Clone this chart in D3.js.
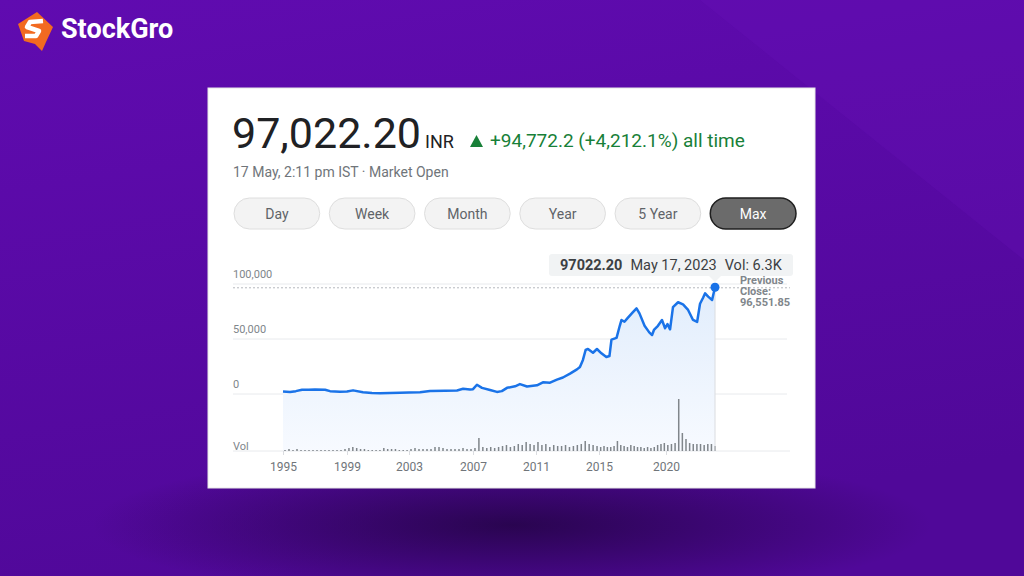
<!DOCTYPE html>
<html>
<head>
<meta charset="utf-8">
<script src="https://cdn.jsdelivr.net/npm/d3@7"></script>
<style>
  html, body { margin: 0; padding: 0; background: #5a0aa6; }
  svg { display: block; font-family: Roboto, Arial, sans-serif; }
</style>
</head>
<body>
<svg id="chart" width="1024" height="576"></svg>
<script>
// price history (year as decimal, close in INR)
const years = [1995.00, 1995.44, 1995.80, 1996.19, 1996.60, 1997.00, 1997.63, 1997.94, 1998.56, 1999.00,
  1999.39, 2000.03, 2000.61, 2001.13, 2001.77, 2002.42, 2003.00, 2003.69, 2004.31, 2005.25,
  2006.00, 2006.38, 2006.81, 2007.00, 2007.25, 2007.57, 2008.08, 2008.52, 2008.83, 2009.16,
  2009.67, 2009.98, 2010.43, 2011.06, 2011.44, 2011.89, 2012.33, 2012.71, 2013.16, 2013.60,
  2013.79, 2013.98, 2014.15, 2014.30, 2014.62, 2014.87, 2015.18, 2015.55, 2015.78, 2015.93,
  2016.31, 2016.55, 2016.68, 2016.90, 2017.13, 2017.50, 2017.80, 2018.02, 2018.40, 2018.75,
  2018.96, 2019.10, 2019.40, 2019.70, 2019.93, 2020.10, 2020.28, 2020.48, 2020.83, 2021.17,
  2021.52, 2021.86, 2022.14, 2022.34, 2022.55, 2022.69, 2022.90, 2023.17, 2023.37];
const closes = [2250, 1800, 2600, 3900, 3800, 4000, 3900, 2600, 2100, 2200,
  3300, 1600, 1000, 700, 1000, 1200, 1300, 1500, 2700, 3000,
  3200, 4700, 4000, 4400, 8400, 5600, 3700, 1900, 2600, 5600,
  7000, 9000, 6800, 7900, 10600, 10300, 13000, 15000, 18500, 22400,
  24600, 31000, 40000, 41000, 37500, 40900, 37000, 33600, 34500, 49400,
  51000, 62000, 67300, 65700, 69000, 74000, 77900, 73300, 62000, 56000,
  53600, 58200, 62000, 67300, 59800, 63500, 58800, 79000, 83400, 81500,
  76400, 67300, 65500, 82000, 87500, 91500, 88500, 85500, 97022.2];

// quarterly volume (relative, thousands) from 1995 Q1 to 2023 Q2
const volStart = 1995;
const volK = [
  1, 2, 1, 2,   1, 1, 1, 1,   1, 1, 1, 1,   1, 1, 1, 2,   // 1995-1998
  3, 4, 3, 2,   2, 1, 1, 1,   1, 3, 2, 2,   2, 1, 1, 1,   // 1999-2002
  2, 3, 2, 2,   2, 2, 4, 4,   3, 2, 2, 2,   2, 3, 2, 2,   // 2003-2006
  3, 13, 4, 3,  4, 3, 4, 5,   6, 4, 5, 7,   6, 9, 7, 6,   // 2007-2010
  9, 6, 7, 4,   6, 5, 5, 6,   4, 5, 6, 7,   10, 7, 6, 5,  // 2011-2014
  4, 5, 4, 4,   5, 10, 6, 5,  4, 6, 5, 4,   4, 3, 4, 3,   // 2015-2018
  4, 6, 7, 8,   6, 7, 8, 52,  18, 12, 8, 7, 7, 7, 6, 7,   // 2019-2022
  7, 5];                                                  // 2023

const tickYears = [1995, 1999, 2003, 2007, 2011, 2015, 2020];
const yTicks = [0, 50000, 100000];
const yTickLabels = ['0', '50,000', '100,000'];
const prevClose = 96551.85;
const ranges = ['Day', 'Week', 'Month', 'Year', '5 Year', 'Max'];

const svg = d3.select('#chart');
const defs = svg.append('defs');

// background
const bg = defs.append('linearGradient').attr('id', 'bg').attr('x1', 0).attr('y1', 0).attr('x2', 0.3).attr('y2', 1);
bg.append('stop').attr('offset', '0%').attr('stop-color', '#600bb0');
bg.append('stop').attr('offset', '100%').attr('stop-color', '#500899');
const glow = defs.append('radialGradient').attr('id', 'glow');
glow.append('stop').attr('offset', '0%').attr('stop-color', '#250448').attr('stop-opacity', 0.9);
glow.append('stop').attr('offset', '100%').attr('stop-color', '#250448').attr('stop-opacity', 0);
const area = defs.append('linearGradient').attr('id', 'areaFill').attr('x1', 0).attr('y1', 0).attr('x2', 0).attr('y2', 1);
area.append('stop').attr('offset', '0%').attr('stop-color', '#e1edfc');
area.append('stop').attr('offset', '100%').attr('stop-color', '#f7faff');

svg.append('rect').attr('width', 1024).attr('height', 576).attr('fill', 'url(#bg)');
svg.append('path').attr('d', 'M700 0 L1024 0 L1024 260 Z').attr('fill', '#6c14bd').attr('opacity', 0.2);
svg.append('ellipse').attr('cx', 512).attr('cy', 525).attr('rx', 420).attr('ry', 75).attr('fill', 'url(#glow)');

// logo
const logo = svg.append('g');
logo.append('path').attr('d', 'M18 24 L37 12 L53 27 L46 42 L42 51 L35 44 L24 41 Z').attr('fill', '#f26a21');
logo.append('path').attr('d', 'M43 21 L30 22 L27 27 L39 31 L36 36 L25 36')
  .attr('fill', 'none').attr('stroke', '#fff').attr('stroke-width', 4.5).attr('stroke-linejoin', 'round');
logo.append('text').attr('x', 61).attr('y', 38).attr('fill', '#fff')
  .attr('font-size', 27).attr('font-weight', 700).text('StockGro');

// card
svg.append('rect').attr('x', 208).attr('y', 88).attr('width', 607).attr('height', 400)
  .attr('fill', '#fff').attr('stroke', '#e6e6e6');

// header
svg.append('text').attr('x', 232).attr('y', 148).attr('font-size', 43).attr('fill', '#202124').text('97,022.20');
svg.append('text').attr('x', 425).attr('y', 148).attr('font-size', 18).attr('fill', '#202124').text('INR');
svg.append('path').attr('d', 'M470 147 L476.5 135 L483 147 Z').attr('fill', '#188038');
svg.append('text').attr('x', 490).attr('y', 147).attr('font-size', 19).attr('fill', '#188038')
  .text('+94,772.2 (+4,212.1%) all time');
svg.append('text').attr('x', 233).attr('y', 177).attr('font-size', 14).attr('fill', '#70757a')
  .text('17 May, 2:11 pm IST \u00b7 Market Open');

// range buttons
const btnX = d3.scaleBand().domain(ranges).range([234, 796]).paddingInner(0.1);
const btn = svg.append('g').selectAll('g').data(ranges).join('g')
  .attr('transform', d => `translate(${btnX(d)},198)`);
btn.append('rect').attr('width', btnX.bandwidth()).attr('height', 31).attr('rx', 15.5)
  .attr('fill', d => d === 'Max' ? '#6b6b6b' : '#f3f3f3')
  .attr('stroke', d => d === 'Max' ? '#1f1f1f' : '#dedede').attr('stroke-width', d => d === 'Max' ? 1.5 : 1);
btn.append('text').attr('x', btnX.bandwidth() / 2).attr('y', 20.5).attr('text-anchor', 'middle')
  .attr('font-size', 14).attr('fill', d => d === 'Max' ? '#fff' : '#5f6368').text(d => d);

// scales
const x = d3.scaleLinear()
  .domain([1995, 1999, 2003, 2007, 2011, 2015, 2020, 2023.37])
  .range([283, 347, 409, 473, 536, 599, 666, 715]);
const y = d3.scaleLinear().domain([0, 100000]).range([394, 284]);
const vy = d3.scaleLinear().domain([0, 52]).range([451, 399]);
const pts = years.map((t, i) => ({ t, v: closes[i] }));

// gridlines + y labels
const grid = svg.append('g');
grid.selectAll('line').data(yTicks).join('line')
  .attr('x1', 233).attr('x2', 787).attr('y1', d => y(d)).attr('y2', d => y(d))
  .attr('stroke', '#e8eaed');
grid.selectAll('text').data(yTicks).join('text')
  .attr('x', 233).attr('y', d => y(d) - 6).attr('font-size', 11).attr('fill', '#80868b')
  .text((d, i) => yTickLabels[i]);

// area under line
svg.append('path').datum(pts)
  .attr('d', d3.area().x(d => x(d.t)).y0(vy(0)).y1(d => y(d.v)))
  .attr('fill', 'url(#areaFill)');

// previous close dashed line
svg.append('line').attr('x1', 233).attr('x2', 790).attr('y1', y(prevClose)).attr('y2', y(prevClose))
  .attr('stroke', '#b5b9be').attr('stroke-dasharray', '2,2');

// volume baseline and bars
svg.append('line').attr('x1', 233).attr('x2', 790).attr('y1', vy(0)).attr('y2', vy(0)).attr('stroke', '#e8eaed');
svg.append('text').attr('x', 233).attr('y', 450).attr('font-size', 11).attr('fill', '#80868b').text('Vol');
svg.append('g').selectAll('rect').data(volK).join('rect')
  .attr('x', (d, i) => x(volStart + i / 4 + 0.125) - 0.75)
  .attr('width', 1.5)
  .attr('y', d => vy(d))
  .attr('height', d => vy(0) - vy(d))
  .attr('fill', '#80868b');

// x axis
const xAxis = svg.append('g').attr('transform', `translate(0,${vy(0)})`)
  .call(d3.axisBottom(x).tickValues(tickYears).tickFormat(d3.format('d')).tickSize(4));
xAxis.select('.domain').remove();
xAxis.selectAll('line').attr('stroke', '#dadce0');
xAxis.selectAll('text').attr('font-size', 12).attr('fill', '#70757a').attr('dy', '1.1em')
  .attr('font-family', 'Roboto, Arial, sans-serif');

// cursor line and price line
const last = pts[pts.length - 1];
svg.append('line').attr('x1', x(last.t)).attr('x2', x(last.t)).attr('y1', y(last.v)).attr('y2', vy(0))
  .attr('stroke', '#dadce0');
svg.append('path').datum(pts)
  .attr('d', d3.line().x(d => x(d.t)).y(d => y(d.v)))
  .attr('fill', 'none').attr('stroke', '#1a73e8').attr('stroke-width', 2.5).attr('stroke-linejoin', 'round');
svg.append('circle').attr('cx', x(last.t)).attr('cy', y(last.v)).attr('r', 4.5).attr('fill', '#1a73e8');

// tooltip
svg.append('rect').attr('x', 549).attr('y', 254).attr('width', 244).attr('height', 22).attr('rx', 3)
  .attr('fill', '#f1f3f4');
svg.append('path').attr('d', `M${x(last.t) - 6} 276 L${x(last.t)} 282 L${x(last.t) + 6} 276 Z`).attr('fill', '#f1f3f4');
const tip = svg.append('text').attr('x', 560).attr('y', 270).attr('font-size', 14.5).attr('fill', '#3c4043');
tip.append('tspan').attr('font-weight', 700).text('97022.20');
tip.append('tspan').attr('dx', 8).text('May 17, 2023');
tip.append('tspan').attr('dx', 8).text('Vol: 6.3K');

// previous close label
const pc = svg.append('text').attr('font-size', 11).attr('font-weight', 700).attr('fill', '#80868b');
['Previous', 'Close:', '96,551.85'].forEach((s, i) => {
  pc.append('tspan').attr('x', 740).attr('y', 284 + i * 11).text(s);
});
</script>
</body>
</html>
